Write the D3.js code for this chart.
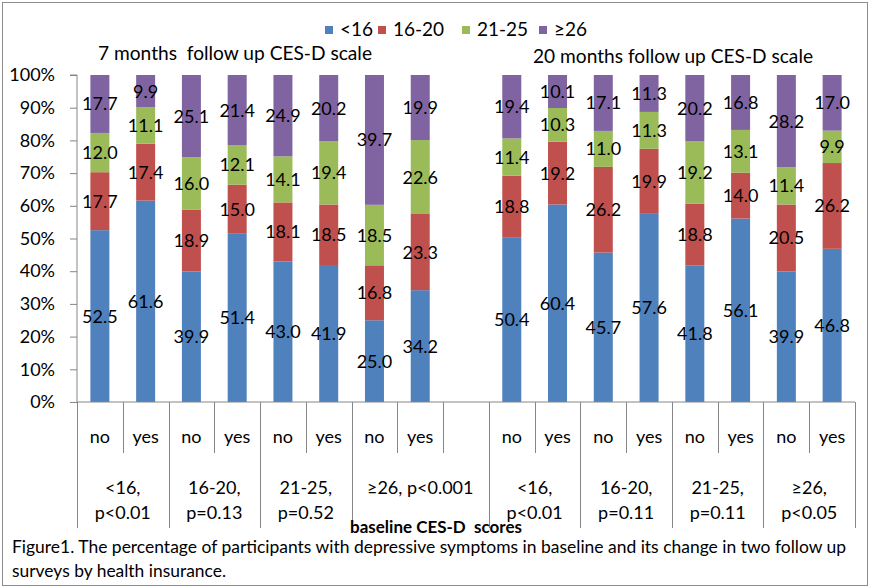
<!DOCTYPE html>
<html><head><meta charset="utf-8">
<script src="https://cdn.jsdelivr.net/npm/d3@7"></script>
<style>
body{margin:0;background:#fff;}
svg text{font-family:Lato,"Open Sans",sans-serif;fill:#000;}
</style></head>
<body><svg id="c" width="870" height="588"></svg>
<script>
// ---- data ----
const series = ["<16", "16-20", "21-25", "≥26"];
const colors = ["#4F81BD", "#C0504D", "#9BBB59", "#8064A2"];
const panels = ["7 months  follow up CES-D scale", "20 months follow up CES-D scale"];
const insurance = ["no", "yes"];
const baselineGroups = ["<16", "16-20", "21-25", "≥26"];
// each row: [<16, 16-20, 21-25, ≥26] for no/yes within each baseline group
const month7 = [
  [52.5, 17.7, 12.0, 17.7], [61.6, 17.4, 11.1, 9.9],
  [39.9, 18.9, 16.0, 25.1], [51.4, 15.0, 12.1, 21.4],
  [43.0, 18.1, 14.1, 24.9], [41.9, 18.5, 19.4, 20.2],
  [25.0, 16.8, 18.5, 39.7], [34.2, 23.3, 22.6, 19.9]
];
const month20 = [
  [50.4, 18.8, 11.4, 19.4], [60.4, 19.2, 10.3, 10.1],
  [45.7, 26.2, 11.0, 17.1], [57.6, 19.9, 11.3, 11.3],
  [41.8, 18.8, 19.2, 20.2], [56.1, 14.0, 13.1, 16.8],
  [39.9, 20.5, 11.4, 28.2], [46.8, 26.2, 9.9, 17.0]
];
const groupLabels7 = [["<16,", "p<0.01"], ["16-20,", "p=0.13"], ["21-25,", "p=0.52"], ["≥26, p<0.001"]];
const groupLabels20 = [["<16,", "p<0.01"], ["16-20,", "p=0.11"], ["21-25,", "p=0.11"], ["≥26,", "p<0.05"]];
const yTicks = [0, 0.1, 0.2, 0.3, 0.4, 0.5, 0.6, 0.7, 0.8, 0.9, 1.0];
const axisTitle = "baseline CES-D  scores";
const caption = ["Figure1. The percentage of participants with depressive symptoms in baseline and its change in two follow up",
                 "surveys by health insurance."];

(function () {
// ---- build bar list (slot 8 is the empty spacer) ----
const bars = [];
month7.forEach((v, i) => bars.push({slot: i, vals: v}));
month20.forEach((v, i) => bars.push({slot: i + 9, vals: v}));
const nSlots = 17;

const svg = d3.select("#c");
const pL = 77, pR = 855, pT = 75, pB = 402;
const axisCol = "#868686";

svg.append("rect").attr("x", 2.5).attr("y", 2.5).attr("width", 865).attr("height", 583)
  .attr("fill", "#fff").attr("stroke", "#8c8c8c");

const x = d3.scaleBand().domain(d3.range(nSlots)).range([pL, pR])
  .paddingInner(0.585).paddingOuter(0.2925);
const step = x.step();
const y = d3.scaleLinear().domain([0, 1]).range([pB, pT]);

// bars
bars.forEach(b => {
  const total = d3.sum(b.vals);
  let cum = 0;
  b.vals.forEach((v, k) => {
    const y0 = cum / total, y1 = (cum + v) / total;
    cum += v;
    svg.append("rect").attr("x", x(b.slot)).attr("width", x.bandwidth())
      .attr("y", y(y1)).attr("height", y(y0) - y(y1)).attr("fill", colors[k]);
    svg.append("text").attr("x", x(b.slot) + x.bandwidth() / 2).attr("y", y((y0 + y1) / 2))
      .attr("dy", "0.36em").attr("text-anchor", "middle").attr("font-size", 18)
      .attr("fill", "#111").text(v.toFixed(1));
  });
});

// y axis
const yAxis = d3.axisLeft(y).tickValues(yTicks).tickFormat(d3.format(".0%")).tickSize(7).tickPadding(15);
const ga = svg.append("g").attr("transform", `translate(${pL},0)`).call(yAxis);
ga.select(".domain").attr("stroke", axisCol).attr("d", `M-7,${pT}H0V${pB}`);
ga.selectAll(".tick line").attr("stroke", axisCol);
ga.selectAll(".tick text").attr("font-size", 18).attr("font-family", "Lato").attr("fill", "#000");

// x axis line
svg.append("line").attr("x1", pL).attr("x2", pR).attr("y1", pB).attr("y2", pB).attr("stroke", axisCol);

// category separators
const groupBounds = new Set([0, 2, 4, 6, 9, 11, 13, 15, 17]);
for (let i = 0; i <= nSlots; i++) {
  const xx = Math.round(pL + i * step) + 0.5;
  svg.append("line").attr("x1", xx).attr("x2", xx).attr("y1", pB)
    .attr("y2", groupBounds.has(i) ? 528 : 453).attr("stroke", axisCol);
}

// no / yes labels
bars.forEach((b, i) => {
  svg.append("text").attr("x", x(b.slot) + x.bandwidth() / 2).attr("y", 437).attr("dy", "0.36em")
    .attr("text-anchor", "middle").attr("font-size", 18).text(insurance[i % 2]);
});

// group labels
function groupText(labels, startSlot, spans) {
  let s = startSlot;
  labels.forEach((lab, g) => {
    const span = spans[g];
    const cx = pL + (s + span / 2) * step;
    lab.forEach((line, li) => {
      svg.append("text").attr("x", cx).attr("y", 488 + li * 25).attr("dy", "0.36em")
        .attr("text-anchor", "middle").attr("font-size", 18).text(line);
    });
    s += span;
  });
}
groupText(groupLabels7, 0, [2, 2, 2, 3]);
groupText(groupLabels20, 9, [2, 2, 2, 2]);

// axis title
svg.append("text").attr("x", 436).attr("y", 533).attr("text-anchor", "middle")
  .attr("font-size", 17).attr("font-weight", "bold").style("white-space", "pre").text(axisTitle);

// panel titles
svg.append("text").attr("x", 98).attr("y", 60).attr("font-size", 19).style("white-space", "pre")
  .attr("textLength", 274).attr("lengthAdjust", "spacingAndGlyphs").text(panels[0]);
svg.append("text").attr("x", 533).attr("y", 63).attr("font-size", 19).style("white-space", "pre")
  .attr("textLength", 280).attr("lengthAdjust", "spacingAndGlyphs").text(panels[1]);

// legend
const legX = [325, 378, 462, 539];
series.forEach((s, k) => {
  svg.append("rect").attr("x", legX[k]).attr("y", 26).attr("width", 8).attr("height", 8).attr("fill", colors[k]);
  svg.append("text").attr("x", legX[k] + 15).attr("y", 36).attr("font-size", 19).text(s);
});

// caption
svg.append("text").attr("x", 12).attr("y", 553).attr("font-size", 17)
  .attr("textLength", 834).attr("lengthAdjust", "spacingAndGlyphs").text(caption[0]);
svg.append("text").attr("x", 12).attr("y", 577).attr("font-size", 17)
  .attr("textLength", 214).attr("lengthAdjust", "spacingAndGlyphs").text(caption[1]);
})();
</script></body></html>
